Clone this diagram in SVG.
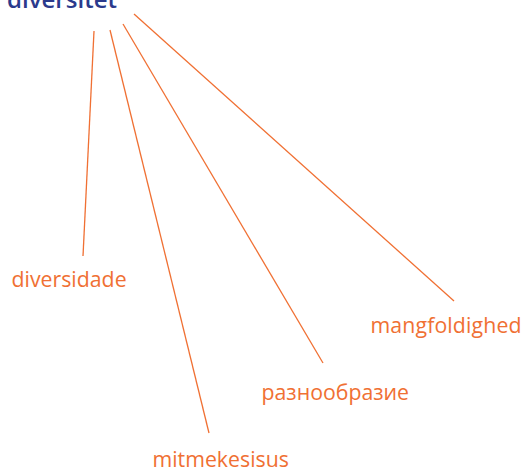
<svg xmlns="http://www.w3.org/2000/svg" width="525" height="468" viewBox="0 0 525 468">
<style>
.lbl{font-family:"Open Sans","Noto Sans",sans-serif;font-size:21.3px;fill:#f07033}
.root{font-family:"Open Sans","Noto Sans",sans-serif;font-size:23px;font-weight:600;fill:#2b3a8c}
.edge{stroke:#f07033;stroke-width:1.3;fill:none}
</style>
<rect width="525" height="468" fill="#ffffff"/>
<g id="connectors">
<line class="edge" x1="94" y1="31" x2="83" y2="256"/>
<line class="edge" x1="110" y1="30" x2="209" y2="433"/>
<line class="edge" x1="123" y1="24" x2="323" y2="363"/>
<line class="edge" x1="134" y1="14" x2="454" y2="301"/>
</g>
<g id="node-root"><text class="root" x="7" y="8" textLength="110" lengthAdjust="spacingAndGlyphs">diversitet</text></g>
<g id="node-diversidade"><text class="lbl" x="11.5" y="287">diversidade</text></g>
<g id="node-mitmekesisus"><text class="lbl" x="152.5" y="467">mitmekesisus</text></g>
<g id="node-raznoobrazie"><text class="lbl" x="261.5" y="400">разнообразие</text></g>
<g id="node-mangfoldighed"><text class="lbl" x="370.5" y="333" textLength="151">mangfoldighed</text></g>
</svg>
